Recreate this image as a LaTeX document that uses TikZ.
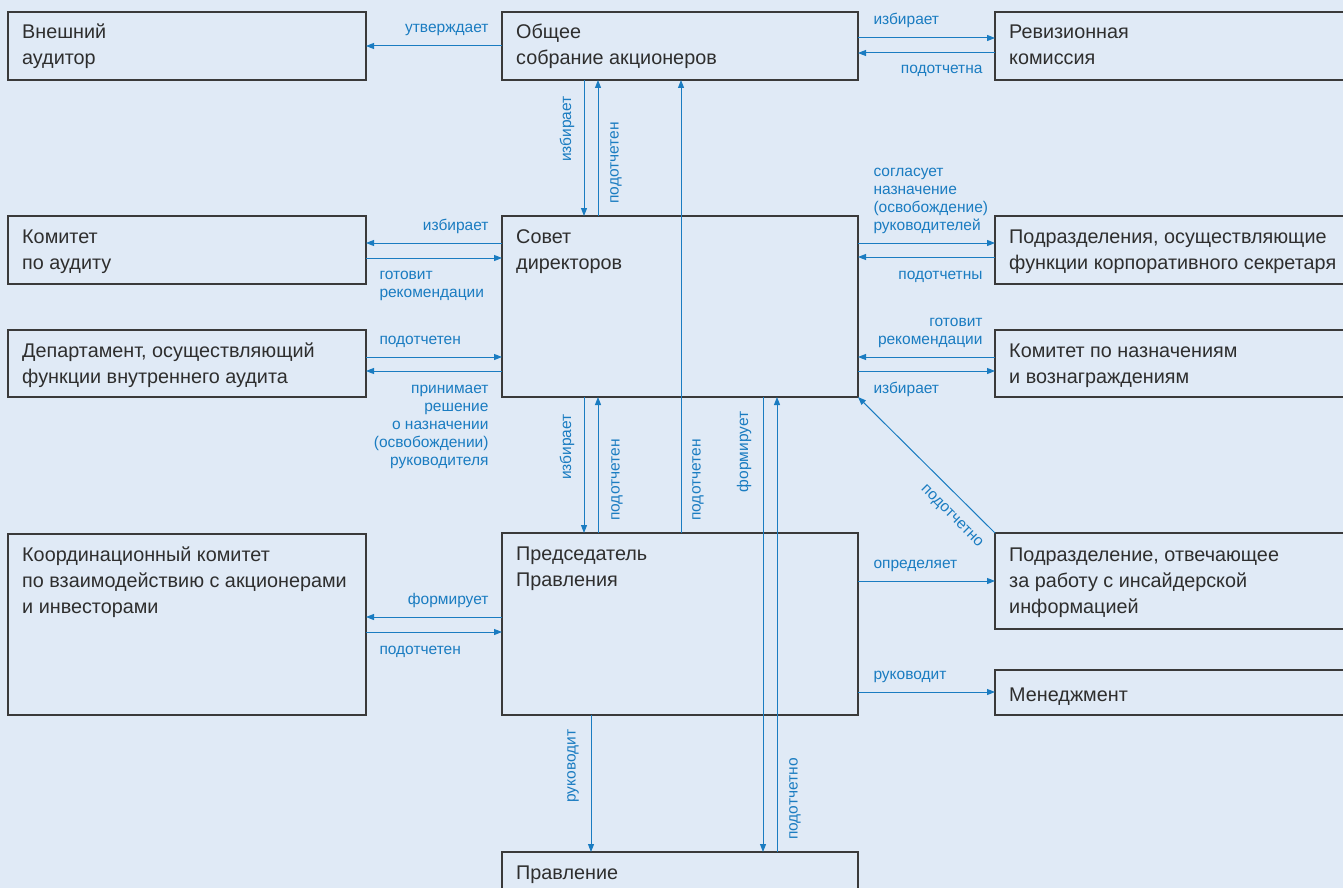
\documentclass[tikz,border=0pt]{standalone}
\usepackage{fontspec}
\setmainfont{Liberation Sans}
\usetikzlibrary{arrows.meta}
\definecolor{bg}{HTML}{E0EAF6}
\definecolor{lb}{HTML}{1A7CC1}
\definecolor{tx}{HTML}{2E2E2E}
\definecolor{bd}{HTML}{3A3A3A}
\newcommand\mlines[2]{\begin{tabular}[t]{@{}#1@{}}#2\end{tabular}}
\begin{document}
\begin{tikzpicture}[x=1pt,y=-1pt,
  box/.style={draw=bd, line width=1.2pt, anchor=north west, inner sep=0pt, outer sep=0pt},
  btext/.style={anchor=base west, inner sep=0pt, text=tx, font=\fontsize{19.8}{26}\selectfont},
  arr/.style={draw=lb, line width=1pt, -{Triangle[length=8pt,width=6pt]}},
  lbl/.style={text=lb, inner sep=0pt, font=\fontsize{15.5}{18}\selectfont}]
\useasboundingbox (0,0) rectangle (1343,888);
\clip (0,0) rectangle (1343,888);
\fill[bg] (0,0) rectangle (1343,888);

% boxes
\node[box, minimum width=358pt, minimum height=68pt] (vn) at (8,12) {};
\node[box, minimum width=356pt, minimum height=68pt] (obs) at (502,12) {};
\node[box, minimum width=360pt, minimum height=68pt] (rev) at (995,12) {};
\node[box, minimum width=358pt, minimum height=68pt] (kau) at (8,216) {};
\node[box, minimum width=356pt, minimum height=181pt] (sov) at (502,216) {};
\node[box, minimum width=360pt, minimum height=68pt] (pod) at (995,216) {};
\node[box, minimum width=358pt, minimum height=67pt] (dep) at (8,330) {};
\node[box, minimum width=360pt, minimum height=67pt] (kn) at (995,330) {};
\node[box, minimum width=358pt, minimum height=181pt] (koord) at (8,534) {};
\node[box, minimum width=356pt, minimum height=182pt] (pred) at (502,533) {};
\node[box, minimum width=360pt, minimum height=96pt] (ins) at (995,533) {};
\node[box, minimum width=360pt, minimum height=45pt] (men) at (995,670) {};
\node[box, minimum width=356pt, minimum height=60pt] (prav) at (502,852) {};

% box texts
\node[btext] (vn-t) at ([shift={(14pt,-27pt)}]vn.north west) {\mlines{l}{Внешний\\аудитор}};
\node[btext] (obs-t) at ([shift={(14pt,-27pt)}]obs.north west) {\mlines{l}{Общее\\собрание акционеров}};
\node[btext] (rev-t) at ([shift={(14pt,-27pt)}]rev.north west) {\mlines{l}{Ревизионная\\комиссия}};
\node[btext] (kau-t) at ([shift={(14pt,-27pt)}]kau.north west) {\mlines{l}{Комитет\\по аудиту}};
\node[btext] (sov-t) at ([shift={(14pt,-27pt)}]sov.north west) {\mlines{l}{Совет\\директоров}};
\node[btext] (pod-t) at ([shift={(14pt,-27pt)}]pod.north west) {\mlines{l}{Подразделения, осуществляющие\\функции корпоративного секретаря}};
\node[btext] (dep-t) at ([shift={(14pt,-27pt)}]dep.north west) {\mlines{l}{Департамент, осуществляющий\\функции внутреннего аудита}};
\node[btext] (kn-t) at ([shift={(14pt,-27pt)}]kn.north west) {\mlines{l}{Комитет по назначениям\\и вознаграждениям}};
\node[btext] (koord-t) at ([shift={(14pt,-27pt)}]koord.north west) {\mlines{l}{Координационный комитет\\по взаимодействию с акционерами\\и инвесторами}};
\node[btext] (pred-t) at ([shift={(14pt,-27pt)}]pred.north west) {\mlines{l}{Председатель\\Правления}};
\node[btext] (ins-t) at ([shift={(14pt,-28pt)}]ins.north west) {\mlines{l}{Подразделение, отвечающее\\за работу с инсайдерской\\информацией}};
\node[btext] (men-t) at ([shift={(14pt,-31pt)}]men.north west) {Менеджмент};
\node[btext] (prav-t) at ([shift={(14pt,-27pt)}]prav.north west) {Правление};

% connectors
\draw[arr] ([yshift=-34pt]obs.north west) -- node[lbl, at start, anchor=base east, shift={(-13pt,13pt)}] (l1) {утверждает} ([yshift=-34pt]vn.north east);
\draw[arr] ([yshift=-26pt]obs.north east) -- node[lbl, at start, anchor=base west, shift={(15pt,13pt)}] (l2) {избирает} ([yshift=-26pt]rev.north west);
\draw[arr] ([yshift=-41pt]rev.north west) -- node[lbl, at start, anchor=base east, shift={(-12pt,-21pt)}] (l3) {подотчетна} ([yshift=-41pt]obs.north east);
\draw[arr] ([xshift=82pt]obs.south west) -- node[lbl, midway, shift={(-17pt,19pt)}, rotate=90] (l4) {избирает} ([xshift=82pt]sov.north west);
\draw[arr] ([xshift=96pt]sov.north west) -- node[lbl, midway, shift={(18pt,-15pt)}, rotate=90] (l5) {подотчетен} ([xshift=96pt]obs.south west);
\draw[arr] ([yshift=-27pt]sov.north west) -- node[lbl, at start, anchor=base east, shift={(-13pt,13pt)}] (l6) {избирает} ([yshift=-27pt]kau.north east);
\draw[arr] ([yshift=-42pt]kau.north east) -- node[lbl, at start, anchor=base west, shift={(13pt,-21pt)}] (l7) {\mlines{l}{готовит\\рекомендации}} ([yshift=-42pt]sov.north west);
\draw[arr] ([yshift=-27pt]dep.north east) -- node[lbl, at start, anchor=base west, shift={(13pt,13pt)}] (l8) {подотчетен} ([yshift=-141pt]sov.north west);
\draw[arr] ([yshift=-155pt]sov.north west) -- node[lbl, at start, anchor=base east, shift={(-13pt,-22pt)}] (l9) {\mlines{r}{принимает\\решение\\о назначении\\(освобождении)\\руководителя}} ([yshift=-41pt]dep.north east);
\draw[arr] ([yshift=-27pt]sov.north east) -- node[lbl, at start, anchor=base west, shift={(15pt,67pt)}] (l10) {\mlines{l}{согласует\\назначение\\(освобождение)\\руководителей}} ([yshift=-27pt]pod.north west);
\draw[arr] ([yshift=-41pt]pod.north west) -- node[lbl, at start, anchor=base east, shift={(-12pt,-22pt)}] (l11) {подотчетны} ([yshift=-41pt]sov.north east);
\draw[arr] ([yshift=-27pt]kn.north west) -- node[lbl, at start, anchor=base east, shift={(-12pt,31pt)}] (l12) {\mlines{r}{готовит\\рекомендации}} ([yshift=-141pt]sov.north east);
\draw[arr] ([yshift=-155pt]sov.north east) -- node[lbl, at start, anchor=base west, shift={(15pt,-22pt)}] (l13) {избирает} ([yshift=-41pt]kn.north west);
\draw[arr] (ins.north west) -- node[lbl, pos=0.22, shift={(-13.5pt,-13.5pt)}, rotate=-45] (l14) {подотчетно} (sov.south east);
\draw[arr] ([xshift=82pt]sov.south west) -- node[lbl, midway, shift={(-17pt,18pt)}, rotate=90] (l15) {избирает} ([xshift=82pt]pred.north west);
\draw[arr] ([xshift=96pt]pred.north west) -- node[lbl, midway, shift={(19pt,-15pt)}, rotate=90] (l16) {подотчетен} ([xshift=96pt]sov.south west);
\draw[arr] ([xshift=179pt]pred.north west) -- node[lbl, at start, shift={(17pt,53pt)}, rotate=90] (l17) {подотчетен} ([xshift=179pt]obs.south west);
\draw[arr] ([xshift=261pt]sov.south west) -- node[lbl, at start, shift={(-19pt,-55pt)}, rotate=90] (l18) {формирует} ([xshift=261pt]prav.north west);
\draw[arr] ([xshift=275pt]prav.north west) -- node[lbl, at start, shift={(18pt,53pt)}, rotate=90] (l19) {подотчетно} ([xshift=275pt]sov.south west);
\draw[arr] ([xshift=89pt]pred.south west) -- node[lbl, at start, shift={(-18pt,-51pt)}, rotate=90] (l20) {руководит} ([xshift=89pt]prav.north west);
\draw[arr] ([yshift=-84pt]pred.north west) -- node[lbl, at start, anchor=base east, shift={(-13pt,13pt)}] (l21) {формирует} ([yshift=-83pt]koord.north east);
\draw[arr] ([yshift=-98pt]koord.north east) -- node[lbl, at start, anchor=base west, shift={(13pt,-22pt)}] (l22) {подотчетен} ([yshift=-99pt]pred.north west);
\draw[arr] ([yshift=-48pt]pred.north east) -- node[lbl, at start, anchor=base west, shift={(15pt,13pt)}] (l23) {определяет} ([yshift=-48pt]ins.north west);
\draw[arr] ([yshift=-159pt]pred.north east) -- node[lbl, at start, anchor=base west, shift={(15pt,13pt)}] (l24) {руководит} ([yshift=-22pt]men.north west);
\end{tikzpicture}
\end{document}
